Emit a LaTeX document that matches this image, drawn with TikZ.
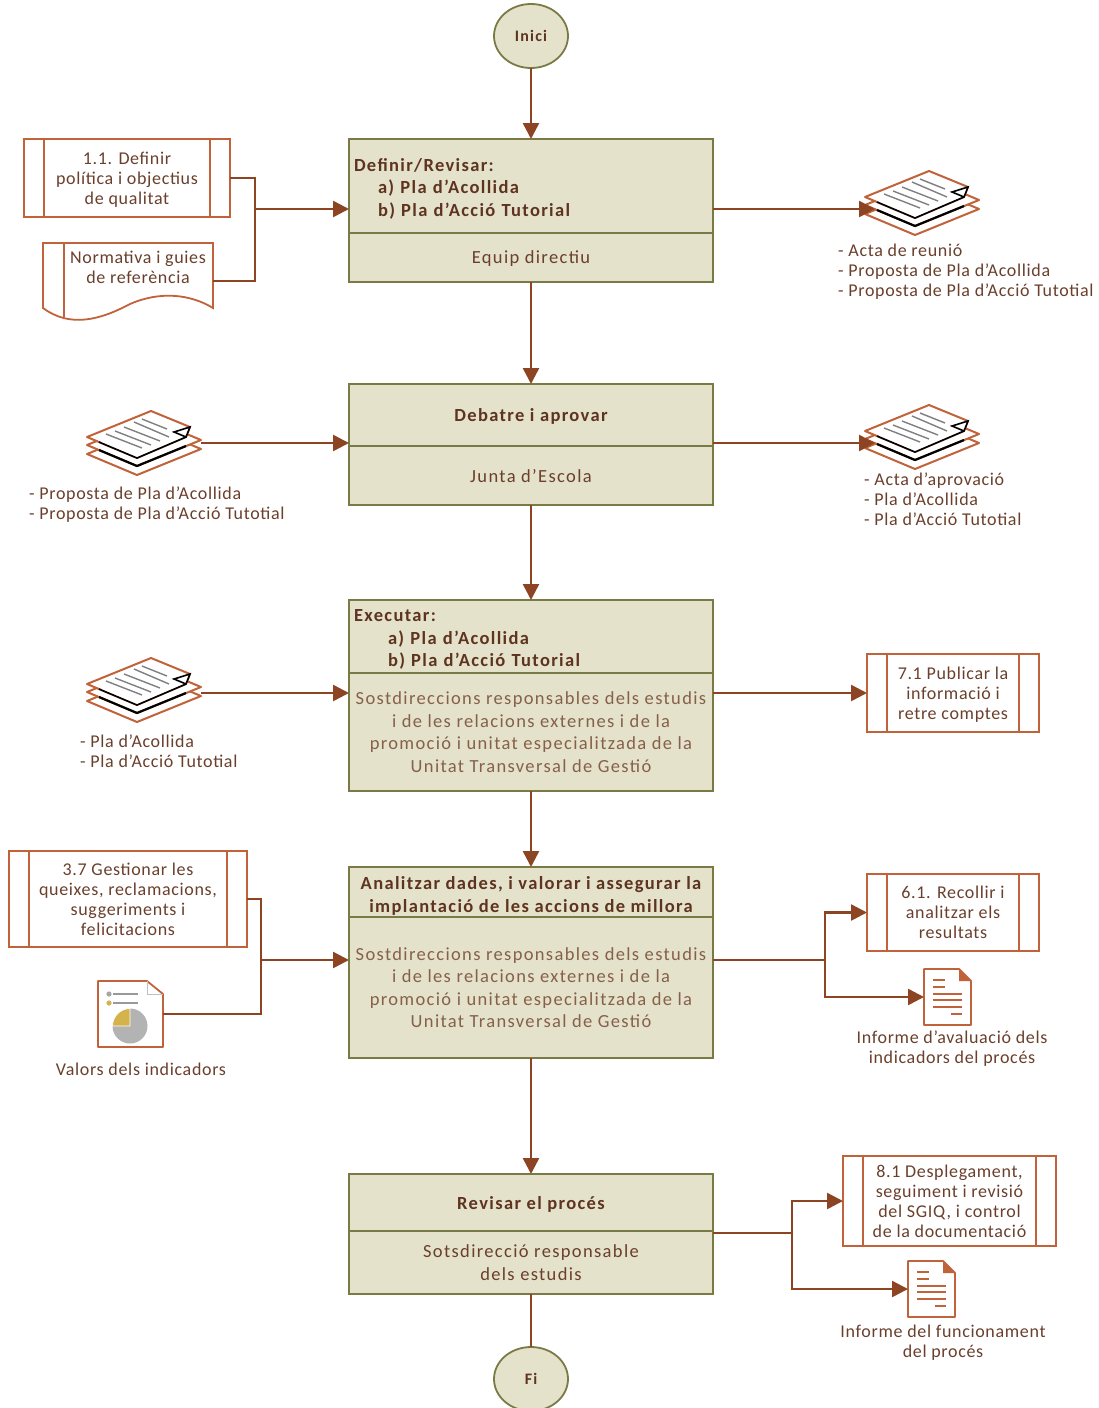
\documentclass[tikz,border=0pt]{standalone}
\usepackage{fontspec}
\setmainfont{Carlito}
\newfontfamily\stepface[LetterSpace=7.3]{Carlito}
\newfontfamily\sideface[LetterSpace=3.7]{Carlito}
\usetikzlibrary{arrows.meta}
\usetikzlibrary{shapes.geometric}
\definecolor{boxfill}{HTML}{E4E2CB}
\definecolor{boxline}{HTML}{7A7A45}
\definecolor{flowline}{HTML}{8C4422}
\definecolor{docline}{HTML}{C0623A}
\definecolor{darktext}{HTML}{5E3420}
\definecolor{softtext}{HTML}{86604A}
\definecolor{sidetext}{HTML}{6A3F2C}
\definecolor{goldpie}{HTML}{D4B24C}
\definecolor{greypie}{HTML}{B3B3B3}
\newcommand{\lowerline}{\rule{0pt}{18pt}}
\tikzset{
  stepfont/.style={font=\fontsize{18.5}{22.4}\stepface},
  sidefont/.style={font=\fontsize{18}{20}\sideface},
  headbox/.style={draw=boxline,fill=boxfill,line width=1.8pt,outer sep=0pt,inner sep=0pt,minimum width=364pt,text=darktext,align=center,text depth=0pt,font=\fontsize{18.5}{22.4}\stepface\bfseries},
  listbox/.style={headbox,text width=354pt,align=left,text depth=},
  bodybox/.style={draw=boxline,fill=boxfill,line width=1.8pt,outer sep=0pt,inner sep=0pt,minimum width=364pt,text=softtext,align=center,text depth=0pt,stepfont},
  endbox/.style={ellipse,draw=boxline,fill=boxfill,line width=1.8pt,outer sep=0pt,inner sep=0pt,minimum width=74pt,minimum height=64pt,text=darktext,font=\fontsize{16}{18}\stepface\bfseries},
  procbox/.style={draw=docline,line width=1.8pt,outer sep=0pt,inner sep=0pt,text=sidetext,align=center,text depth=0pt,sidefont,
    path picture={\draw[docline,line width=1.8pt] ([xshift=20pt]path picture bounding box.north west) -- ([xshift=20pt]path picture bounding box.south west)
      ([xshift=-20pt]path picture bounding box.north east) -- ([xshift=-20pt]path picture bounding box.south east);}},
  sidelabel/.style={inner sep=0pt,text=sidetext,text depth=0pt,sidefont},
  flow/.style={draw=flowline,line width=2.5pt,-{Triangle[length=16pt,width=16pt]}},
  wire/.style={draw=flowline,line width=2.5pt},
  pics/pile/.style={code={
    \draw[docline,line width=2pt,fill=white,line join=round] (-57,11) -- (-7,32) -- (57,6) -- (7,-15) -- cycle;
    \draw[docline,line width=2pt,fill=white,line join=round] (-57,2) -- (-7,23) -- (57,-3) -- (7,-24) -- cycle;
    \draw[black,line width=2.2pt] (-45,7) -- (-7,23) -- (42,3);
    \draw[docline,line width=2pt,fill=white,line join=round] (-57,-6) -- (7,-32) -- (46,-16) -- (42,-6) -- (-7,15) -- cycle;
    \draw[black,line width=1.6pt,fill=white] (-45,-1) -- (-7,15) -- (42,-6) -- (46,-16) -- (30,-11) -- (42,-6);
    \foreach \xa/\ya/\xb/\yb in {-38/-9/-2/5,-29/-12/7/2,-20/-16/16/-2,-10/-21/25/-6,-2/-24/23/-14}
      \draw[gray,line width=1.4pt] (\xa,\ya) -- (\xb,\yb);
    \coordinate (-w) at (-47,6);
    \coordinate (-e) at (57,0);
  }},
  pics/report/.style={code={
    \draw[docline,line width=1.8pt,fill=white,line join=round] (-23,-28) -- (12,-28) -- (24,-16) -- (24,28) -- (-23,28) -- cycle;
    \fill[docline] (12,-28) -- (24,-16) -- (12,-16) -- cycle;
    \foreach \xa/\xb/\ya in {-14/-2/-17,-14/-2/-10,-14/15/-3,-14/15/3,-14/15/10,4/15/17}
      \draw[docline,line width=1.3pt] (\xa,\ya) -- (\xb,\ya);
    \coordinate (-w) at (-23,0);
  }},
  pics/chart/.style={code={
    \draw[docline,line width=1.8pt,fill=white,line join=round] (-33,-33) -- (16,-33) -- (32,-20) -- (32,33) -- (-33,33) -- cycle;
    \draw[lightgray,line width=.8pt] (16,-33) -- (16,-20) -- (32,-20);
    \fill[gray!70] (-22,-20) circle (2.6);
    \fill[goldpie] (-22,-11) circle (2.6);
    \draw[gray!80,line width=1.2pt] (-18,-20) -- (7,-20) (-18,-11) -- (7,-11);
    \fill[greypie] (-1,12) circle (17.5);
    \draw[white,line width=.8pt,fill=goldpie] (-1,12) -- (-1,-5.5) arc[start angle=-90,end angle=-180,radius=17.5] -- cycle;
    \coordinate (-e) at (32,0);
  }}
}
\begin{document}
\begin{tikzpicture}[x=1pt,y=-1pt]
\useasboundingbox (0,0) rectangle (1098,1408);
% the central column
\node[endbox] (inici) at (531,36) {Inici};
\node[listbox,minimum height=94pt] (h1) at (531,186) {\lowerline Definir/Revisar:\\\hspace*{24pt}a) Pla d’Acollida\\\hspace*{24pt}b) Pla d’Acció Tutorial};
\node[bodybox,text=sidetext,minimum height=49pt] (b1) at (531,257.5) {Equip directiu};
\node[headbox,minimum height=62pt] (h2) at (531,415) {Debatre i aprovar};
\node[bodybox,text=sidetext,minimum height=59pt] (b2) at (531,475.5) {Junta d’Escola};
\node[listbox,minimum height=73pt] (h3) at (531,636.5) {\lowerline Executar:\\\hspace*{34pt}a) Pla d’Acollida\\\hspace*{34pt}b) Pla d’Acció Tutorial};
\node[bodybox,minimum height=118pt] (b3) at (531,732) {Sostdireccions responsables dels estudis\\i de les relacions externes i de la\\promoció i unitat especialitzada de la\\Unitat Transversal de Gestió};
\node[headbox,minimum height=50pt] (h4) at (531,892) {\lowerline Analitzar dades, i valorar i assegurar la\\implantació de les accions de millora};
\node[bodybox,minimum height=141pt] (b4) at (531,987.5) {Sostdireccions responsables dels estudis\\i de les relacions externes i de la\\promoció i unitat especialitzada de la\\Unitat Transversal de Gestió};
\node[headbox,minimum height=57pt] (h5) at (531,1202.5) {Revisar el procés};
\node[bodybox,text=sidetext,minimum height=63pt] (b5) at (531,1262.5) {Sotsdirecció responsable\\dels estudis};
\node[endbox] (fi) at (531,1379) {Fi};
% left column
\node[procbox,minimum width=206pt,minimum height=78pt] (p11) at (127,178) {1.1. Definir\\política i objectius\\de qualitat};
\draw[docline,line width=1.8pt,fill=white] (43,243) -- (213,243) -- (213,308) .. controls (190,294) and (160,291) .. (130,304) .. controls (100,320) and (70,328) .. (43,308) -- cycle;
\draw[docline,line width=1.8pt] (64,243) -- (64,317);
\node[sidelabel,align=center] (nguies) at (138,267.5) {Normativa i guies\\de referència};
\coordinate (ngout) at (213,281);
\pic (s3) at (144,443) {pile};
\node[sidelabel,align=left,anchor=west] (l3) at (29,503) {- Proposta de Pla d’Acollida\\- Proposta de Pla d’Acció Tutotial};
\pic (s4) at (144,690) {pile};
\coordinate (s4out) at (201,693);
\node[sidelabel,align=left,anchor=west] (l4) at (80,751) {- Pla d’Acollida\\- Pla d’Acció Tutotial};
\node[procbox,minimum width=238pt,minimum height=96pt] (p37) at (128,899) {3.7 Gestionar les\\queixes, reclamacions,\\suggeriments i\\felicitacions};
\pic (c1) at (131,1014) {chart};
\node[sidelabel] (l5) at (141,1069) {Valors dels indicadors};
% right column
\pic (s1) at (922,203) {pile};
\node[sidelabel,align=left,anchor=west] (l1) at (838,270) {- Acta de reunió\\- Proposta de Pla d’Acollida\\- Proposta de Pla d’Acció Tutotial};
\pic (s2) at (922,437) {pile};
\node[sidelabel,align=left,anchor=west] (l2) at (864,499) {- Acta d’aprovació\\- Pla d’Acollida\\- Pla d’Acció Tutotial};
\node[procbox,minimum width=172pt,minimum height=78pt] (p71) at (953,693) {7.1 Publicar la\\informació i\\retre comptes};
\node[procbox,minimum width=172pt,minimum height=77pt] (p61) at (953,912.5) {6.1. Recollir i\\analitzar els\\resultats};
\pic (r1) at (947,997) {report};
\node[sidelabel,align=center] (l6) at (952,1047) {Informe d’avaluació dels\\indicadors del procés};
\node[procbox,minimum width=213pt,minimum height=90pt] (p81) at (949.5,1201) {8.1 Desplegament,\\seguiment i revisió\\del SGIQ, i control\\de la documentació};
\pic (r2) at (931,1289) {report};
\node[sidelabel,align=center] (l7) at (943,1341) {Informe del funcionament\\del procés};
% junctions
\coordinate (j1) at (255,209);
\coordinate (j4) at (261,960);
\coordinate (j4r) at (825,960);
\coordinate (j5r) at (792,1233);
% the main line
\draw[flow] (inici) -- (h1);
\draw[flow] (b1) -- (h2);
\draw[flow] (b2) -- (h3);
\draw[flow] (b3) -- (h4);
\draw[flow] (b4) -- (h5);
\draw[wire] (b5) -- (fi);
% inputs
\draw[wire] (p11.east) -| (j1);
\draw[wire] (ngout) -| (j1);
\draw[flow] (j1) -- (h1.west |- j1);
\draw[flow] (s3-e) -- (h2.west |- s3-e);
\draw[flow] (s4out) -- (b3.west |- s4out);
\draw[wire] (p37.east) -| (j4);
\draw[wire] (c1-e) -| (j4);
\draw[flow] (j4) -- (b4.west |- j4);
% outputs
\draw[flow] (h1.east |- s1-w) -- (s1-w);
\draw[flow] (h2.east |- s2-w) -- (s2-w);
\draw[flow] (b3.east |- p71.west) -- (p71.west);
\draw[wire] (b4.east |- j4r) -- (j4r);
\draw[flow] (j4r) |- (p61.west);
\draw[flow] (j4r) |- (r1-w);
\draw[wire] (b5.east |- j5r) -- (j5r);
\draw[flow] (j5r) |- (p81.west);
\draw[flow] (j5r) |- (r2-w);
\end{tikzpicture}
\end{document}
